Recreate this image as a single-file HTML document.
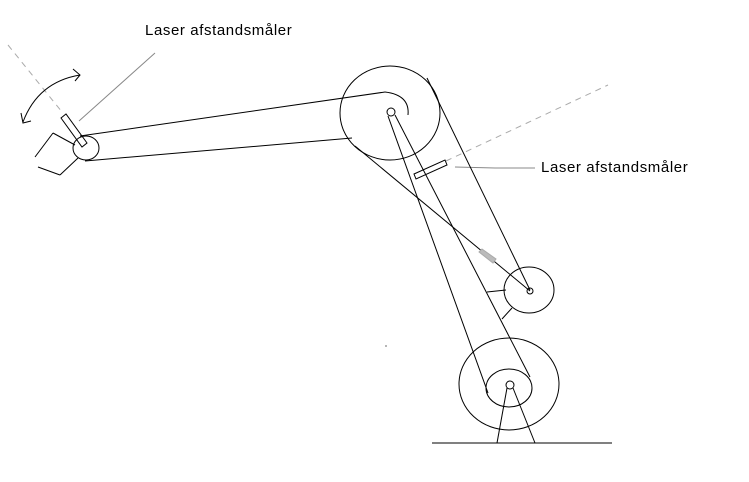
<!DOCTYPE html>
<html><head><meta charset="utf-8"><style>
html,body{margin:0;padding:0;background:#fff;}
svg{display:block;}
text{font-family:"Liberation Sans",sans-serif;font-size:15px;letter-spacing:0.6px;fill:#000;}
</style></head><body>
<svg width="749" height="482" viewBox="0 0 749 482" xmlns="http://www.w3.org/2000/svg">
<g fill="none" stroke="#000" stroke-width="1">
<line x1="8" y1="45" x2="62" y2="112" stroke="#aaa" stroke-dasharray="6,5"/>
<line x1="446" y1="161" x2="608" y2="85" stroke="#aaa" stroke-dasharray="6,5"/>
<line x1="155" y1="53" x2="79" y2="121" stroke="#888"/>
<polyline points="455,167 495,168 535,168" stroke="#888"/>
<path d="M23,122 Q38,82 80,75"/>
<polyline points="21,113 23,123 31,121"/>
<polyline points="73,69 80,75 75,81"/>
<line x1="53" y1="133" x2="75" y2="145"/>
<line x1="53" y1="133" x2="35" y2="157"/>
<line x1="38" y1="167" x2="60" y2="175"/>
<line x1="60" y1="175" x2="78" y2="158"/>
<polygon points="61,118 66,114 87,143 82,147"/>
<ellipse cx="86" cy="148" rx="13" ry="12"/>
<line x1="80" y1="136" x2="385" y2="92"/>
<line x1="85" y1="161" x2="352" y2="138"/>
<path d="M385,92 Q410,95 408,115"/>
<ellipse cx="390" cy="113" rx="50" ry="47"/>
<circle cx="391" cy="112" r="4"/>
<line x1="388" y1="116" x2="488" y2="393"/>
<line x1="395" y1="115" x2="530" y2="377"/>
<line x1="427" y1="78" x2="530" y2="290"/>
<line x1="355" y1="146" x2="530" y2="291"/>
<polygon points="414,174 445,160 447,165 416,179"/>
<ellipse cx="529" cy="290" rx="25" ry="23"/>
<circle cx="530" cy="291" r="3"/>
<line x1="487" y1="292" x2="506" y2="290"/>
<line x1="502" y1="319" x2="512" y2="308"/>
<ellipse cx="509" cy="384" rx="50" ry="46"/>
<ellipse cx="509" cy="388" rx="23" ry="19"/>
<circle cx="510" cy="385" r="4"/>
<line x1="507" y1="388" x2="497" y2="443"/>
<line x1="513" y1="388" x2="535" y2="443"/>
<line x1="432" y1="443" x2="612" y2="443"/>
</g>
<polygon points="479,252 482,249 496,259 493,263" fill="#bbb" stroke="#aaa"/>
<circle cx="386" cy="346" r="0.6" fill="#000"/>
<text x="145" y="35">Laser afstandsmåler</text>
<text x="541" y="172">Laser afstandsmåler</text>
</svg>
</body></html>
